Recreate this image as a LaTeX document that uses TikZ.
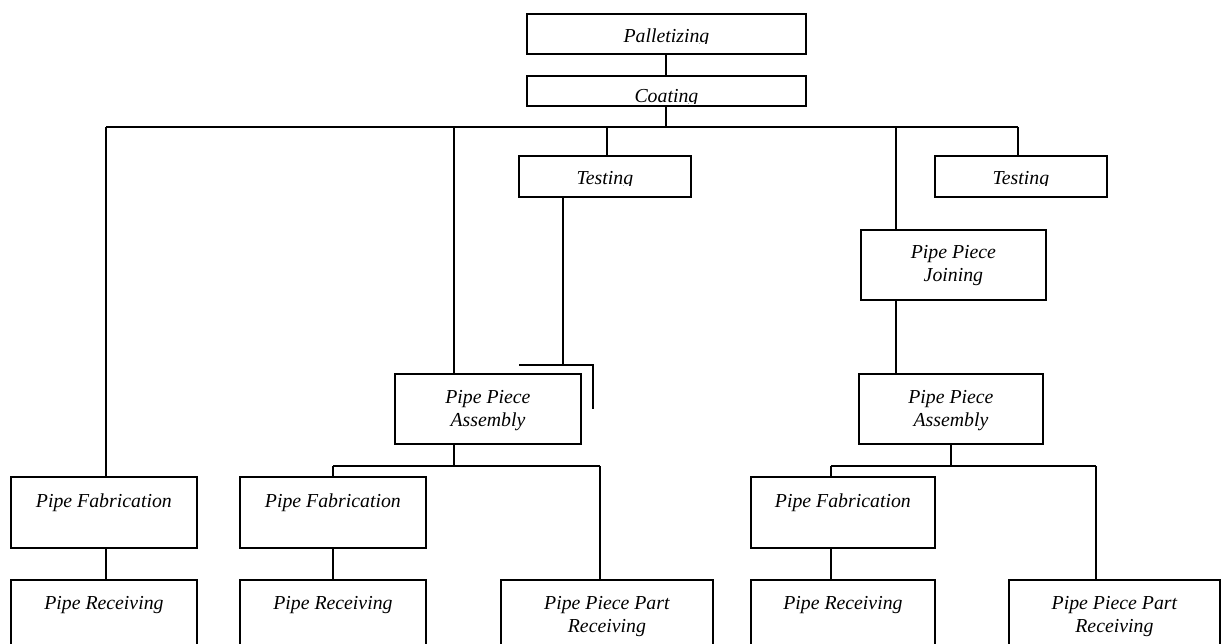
\documentclass[tikz,border=0pt]{standalone}
\usepackage{fontspec}
\setmainfont{Liberation Serif}
\begin{document}
\begin{tikzpicture}[x=1pt,y=-1pt,
  box/.style={draw, line width=1.8pt, rectangle, inner sep=0pt, anchor=north west},
  wire/.style={line width=1.8pt},
  lbl/.style={anchor=base, inner sep=0pt, font=\fontsize{19.8}{23}\selectfont\itshape}]
% page frame
\clip (0,0) rectangle (1224,644);
\fill[white] (0,0) rectangle (1224,644);

% boxes
\node[box, minimum width=279pt, minimum height=40pt] (pal) at (526,13) {};
\node[box, minimum width=279pt, minimum height=30pt] (coat) at (526,75) {};
\node[box, minimum width=172pt, minimum height=41pt] (testA) at (518,155) {};
\node[box, minimum width=172pt, minimum height=41pt] (testB) at (934,155) {};
\node[box, minimum width=185pt, minimum height=70pt] (join) at (860,229) {};
\node[box, minimum width=186pt, minimum height=70pt] (asmA) at (394,373) {};
\node[box, minimum width=184pt, minimum height=70pt] (asmB) at (858,373) {};
\node[box, minimum width=186pt, minimum height=71pt] (fabA) at (10,476) {};
\node[box, minimum width=186pt, minimum height=71pt] (fabB) at (239,476) {};
\node[box, minimum width=184pt, minimum height=71pt] (fabC) at (750,476) {};
\node[box, minimum width=186pt, minimum height=120pt] (recA) at (10,579) {};
\node[box, minimum width=186pt, minimum height=120pt] (recB) at (239,579) {};
\node[box, minimum width=212pt, minimum height=120pt] (partA) at (500,579) {};
\node[box, minimum width=184pt, minimum height=120pt] (recC) at (750,579) {};
\node[box, minimum width=211pt, minimum height=120pt] (partB) at (1008,579) {};

% labels of the short boxes, cut off just below the baseline
\begin{scope}
  \clip (pal.north west) rectangle ([yshift=-31pt]pal.north east);
  \node[lbl] at ([yshift=-30pt]pal.north) {Palletizing};
\end{scope}
\begin{scope}
  \clip (coat.north west) rectangle ([yshift=-29pt]coat.north east);
  \node[lbl] at ([yshift=-28pt]coat.north) {Coating};
\end{scope}
\begin{scope}
  \clip (testA.north west) rectangle ([yshift=-31pt]testA.north east);
  \node[lbl] at ([yshift=-30pt]testA.north) {Testing};
\end{scope}
\begin{scope}
  \clip (testB.north west) rectangle ([yshift=-31pt]testB.north east);
  \node[lbl] at ([yshift=-30pt]testB.north) {Testing};
\end{scope}

% labels of the taller boxes
\node[lbl] at ([yshift=-30pt]join.north) {Pipe Piece};
\node[lbl] at ([yshift=-53pt]join.north) {Joining};
\node[lbl] at ([yshift=-30pt]asmA.north) {Pipe Piece};
\node[lbl] at ([yshift=-53pt]asmA.north) {Assembly};
\node[lbl] at ([yshift=-30pt]asmB.north) {Pipe Piece};
\node[lbl] at ([yshift=-53pt]asmB.north) {Assembly};
\node[lbl] at ([yshift=-31pt]fabA.north) {Pipe Fabrication};
\node[lbl] at ([yshift=-31pt]fabB.north) {Pipe Fabrication};
\node[lbl] at ([yshift=-31pt]fabC.north) {Pipe Fabrication};
\node[lbl] at ([yshift=-30pt]recA.north) {Pipe Receiving};
\node[lbl] at ([yshift=-30pt]recB.north) {Pipe Receiving};
\node[lbl] at ([yshift=-30pt]recC.north) {Pipe Receiving};
\node[lbl] at ([yshift=-30pt]partA.north) {Pipe Piece Part};
\node[lbl] at ([yshift=-53pt]partA.north) {Receiving};
\node[lbl] at ([yshift=-30pt]partB.north) {Pipe Piece Part};
\node[lbl] at ([yshift=-53pt]partB.north) {Receiving};

% junction points
\coordinate (busTop) at (666,127);
\coordinate (busA) at (454,466);
\coordinate (busB) at (951,466);
\coordinate (hookL) at (519,365);
\coordinate (hookR) at (593,365);
\coordinate (hookEnd) at (593,409);

% connectors
\draw[wire] (pal.south -| busTop) -- (coat.north -| busTop);
\draw[wire] (coat.south -| busTop) -- (busTop);
\draw[wire] (106,127) -- (1018,127);
\draw[wire] (106,127) -- (fabA.north -| 106,0);
\draw[wire] (454,127) -- (asmA.north -| 454,0);
\draw[wire] (607,127) -- (testA.north -| 607,0);
\draw[wire] (896,127) -- (join.north -| 896,0);
\draw[wire] (1018,127) -- (testB.north -| 1018,0);
\draw[wire] (join.south -| 896,0) -- (asmB.north -| 896,0);
\draw[wire] (testA.south -| 563,0) -- (563,365);
\draw[wire] (hookL) -- (hookR) -- (hookEnd);

\draw[wire] (asmA.south -| busA) -- (busA);
\draw[wire] (333,466) -- (600,466);
\draw[wire] (333,466) -- (fabB.north -| 333,0);
\draw[wire] (600,466) -- (partA.north -| 600,0);
\draw[wire] (fabA.south -| 106,0) -- (recA.north -| 106,0);
\draw[wire] (fabB.south -| 333,0) -- (recB.north -| 333,0);

\draw[wire] (asmB.south -| busB) -- (busB);
\draw[wire] (831,466) -- (1096,466);
\draw[wire] (831,466) -- (fabC.north -| 831,0);
\draw[wire] (1096,466) -- (partB.north -| 1096,0);
\draw[wire] (fabC.south -| 831,0) -- (recC.north -| 831,0);
\end{tikzpicture}
\end{document}
